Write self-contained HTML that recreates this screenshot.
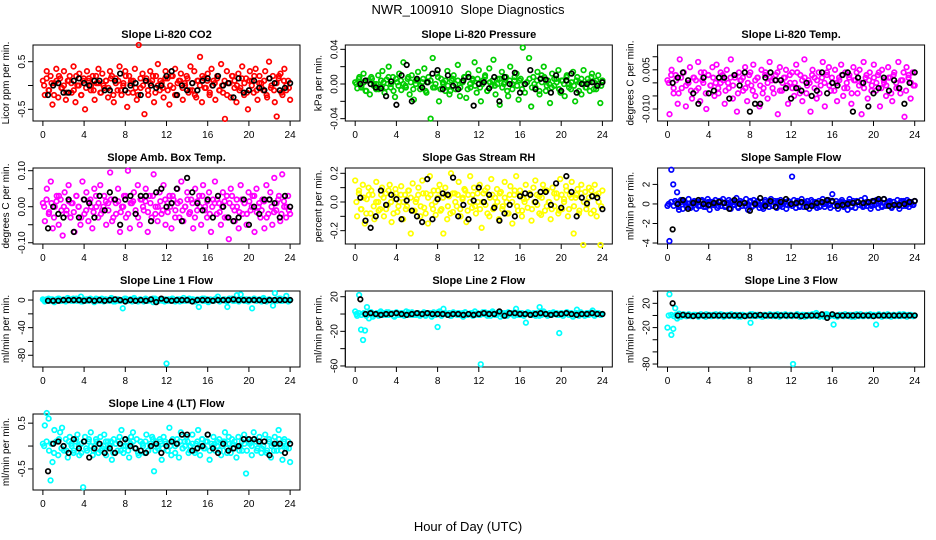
<!DOCTYPE html>
<html><head><meta charset="utf-8"><style>
body{margin:0;background:#fff}
svg{display:block;font-family:"Liberation Sans",sans-serif}
</style></head><body>
<svg id="c" width="936" height="540">
<text x="468" y="14" font-size="13" text-anchor="middle">NWR_100910&#160; Slope Diagnostics</text>
<text x="468" y="531" font-size="13" text-anchor="middle">Hour of Day (UTC)</text>
</svg>
<script>
const co2Vals=[0.1,-0.2,0.3,-0.1,0.2,-0.4,0.05,0.35,-0.25,0.15,-0.05,0.3,-0.3,0.1,0.2,-0.15,0.4,-0.35,0.0,0.25,-0.2,0.1,-0.5,0.3,0.15,-0.1,0.2,-0.3,0.05,0.35,-0.15,0.25,-0.05,0.1,-0.25,0.3,0.2,-0.35,0.15,-0.1,0.4,-0.2,0.05,0.3,-0.45,0.2,0.1,-0.15,0.35,-0.3,0.85,-0.05,0.25,-0.6,0.15,-0.2,0.3,0.1,-0.35,0.2,0.45,-0.1,0.05,-0.25,0.3,0.15,-0.4,0.2,-0.05,0.35,-0.2,0.1,0.25,-0.3,0.05,0.2,-0.15,0.4,-0.1,0.3,-0.25,0.1,0.6,-0.35,0.15,-0.05,0.25,-0.2,0.35,0.1,-0.3,0.2,-0.1,0.45,-0.15,-0.7,0.3,0.05,-0.25,0.2,0.1,-0.35,0.25,-0.05,0.4,-0.2,0.15,-0.5,0.3,0.1,-0.15,0.35,-0.3,0.2,0.05,-0.1,0.3,-0.25,0.5,-0.05,0.2,-0.35,-0.65,0.15,0.25,-0.2,0.35,-0.1,0.1,-0.3];
const co2Core=[0.0,0.15,-0.1,0.05,-0.2,0.1,0.2,-0.05,0.0,-0.15,0.1,0.05,-0.1,0.2,0.0,-0.2,0.15,-0.05,0.1,0.0,-0.1,0.2,0.05,-0.15,0.0,0.1,-0.05,0.15,-0.2,0.05,0.1,-0.1,0.0,0.2,-0.15,0.05,0.1,-0.05,-0.2,0.15,0.0,0.1,-0.1,0.05,0.2,-0.15,0.0,0.1,-0.05,0.15,-0.1,0.0,0.2,-0.2,0.05,0.1,-0.05,0.0,0.15,-0.1,0.05,-0.2,0.1,0.0,0.2,-0.05,0.1,-0.15,0.0,0.05,0.15,-0.1,0.0,0.1,-0.2,0.05,0.2,-0.05,0.0,-0.1,0.15,0.05,-0.15,0.1,0.0,0.2,-0.1,0.05,-0.05,0.1,-0.2,0.15,0.0,-0.1,0.05,0.2,-0.15,0.1,0.0,-0.05];
const co2Black=[-0.2,0.0,0.05,-0.15,-0.15,0.1,0.15,0.05,0.0,0.1,0.1,-0.1,-0.1,0.1,0.25,-0.1,0.0,0.05,-0.2,0.1,0.0,-0.05,0.0,0.2,0.3,-0.2,0.0,-0.1,0.05,-0.1,0.1,0.15,0.0,0.2,0.0,0.05,-0.25,0.15,-0.15,-0.1,0.1,-0.05,-0.1,0.15,0.05,-0.1,-0.05,0.05];
const presVals=[0.002,-0.005,0.008,-0.002,0.012,-0.008,0.004,-0.012,0.006,0.0,-0.006,0.01,-0.003,0.015,-0.01,0.005,0.02,-0.004,0.008,-0.015,0.002,0.012,-0.007,0.025,-0.002,0.006,-0.012,0.01,-0.018,0.004,0.014,-0.006,0.002,0.018,-0.01,0.008,-0.04,0.03,-0.004,0.012,-0.02,0.006,0.0,-0.008,0.015,-0.012,0.004,0.01,-0.006,0.022,-0.014,0.002,0.008,-0.016,0.012,-0.004,0.006,0.025,-0.01,0.016,-0.02,0.004,0.01,-0.008,0.018,-0.002,0.028,-0.012,0.006,-0.024,0.014,0.0,0.008,-0.014,0.02,-0.006,0.004,0.012,-0.018,0.006,0.042,-0.01,0.002,0.03,-0.026,0.008,-0.004,0.014,-0.012,0.01,0.02,-0.008,0.004,-0.022,0.012,-0.002,0.006,0.016,-0.01,0.004,-0.014,0.01,0.0,-0.006,0.014,-0.02,0.008,0.002,-0.012,0.016,-0.004,0.006,-0.008,0.012,0.002,-0.006,0.01,-0.022,0.004];
const presCore=[0.0,0.006,-0.004,0.002,-0.008,0.004,0.008,-0.002,0.0,-0.006,0.004,0.002,-0.004,0.008,0.0,-0.008,0.006,-0.002,0.004,0.0,-0.004,0.008,0.002,-0.006,0.0,0.004,-0.002,0.006,-0.008,0.002,0.004,-0.004,0.0,0.008,-0.006,0.002,0.004,-0.002,-0.008,0.006,0.0,0.004,-0.004,0.002,0.008,-0.006,0.0,0.004,-0.002,0.006,-0.004,0.0,0.008,-0.008,0.002,0.004,-0.002,0.0,0.006,-0.004,0.002,-0.008,0.004,0.0,0.008,-0.002,0.004,-0.006,0.0,0.002,0.006,-0.004,0.0,0.004,-0.008,0.002,0.008,-0.002,0.0,-0.004,0.006,0.002,-0.006,0.004,0.0,0.008,-0.004,0.002,-0.002,0.004,-0.008,0.006,0.0,-0.004,0.002,0.008,-0.006,0.004,0.0,-0.002];
const presBlack=[0.0,0.004,0.0,-0.004,-0.005,-0.014,0.003,-0.024,0.01,0.022,-0.02,0.006,-0.004,0.002,0.012,0.016,-0.006,0.01,-0.002,-0.006,0.004,0.008,-0.025,0.0,0.002,-0.005,0.008,-0.02,0.008,0.0,0.013,-0.01,0.0,0.016,-0.006,0.006,0.005,-0.01,0.01,-0.008,0.004,0.012,-0.01,0.0,0.0,0.002,-0.002,0.002];
const tempVals=[0.001,-0.012,0.005,-0.004,0.003,-0.008,0.009,-0.002,0.004,-0.009,0.0,0.006,-0.006,0.002,-0.003,0.008,-0.007,0.001,0.004,-0.01,0.003,-0.001,0.006,-0.005,0.007,-0.004,0.0,0.003,-0.008,0.005,-0.002,0.009,-0.006,0.002,-0.011,0.004,0.001,-0.003,0.006,-0.007,0.003,-0.001,0.007,-0.005,0.002,-0.009,0.005,-0.002,0.004,-0.006,0.008,0.001,-0.004,0.003,-0.012,0.006,-0.003,0.002,0.005,-0.008,0.0,0.004,-0.005,0.007,-0.002,0.003,-0.007,0.009,-0.004,0.001,-0.011,0.005,0.002,-0.006,0.004,-0.001,0.008,-0.009,0.003,0.006,-0.003,0.0,0.005,-0.007,0.002,0.007,-0.005,0.004,-0.002,0.003,-0.008,0.006,0.001,-0.004,0.005,-0.012,0.008,0.002,-0.006,0.004,-0.001,0.007,-0.003,0.003,-0.009,0.005,0.0,-0.005,0.006,0.002,-0.007,0.004,-0.002,0.008,-0.004,0.001,-0.013,0.006,0.003,-0.006,0.004,-0.001];
const tempCore=[0.0,0.003,-0.002,0.001,-0.004,0.002,0.004,-0.001,0.0,-0.003,0.002,0.001,-0.002,0.004,0.0,-0.004,0.003,-0.001,0.002,0.0,-0.002,0.004,0.001,-0.003,0.0,0.002,-0.001,0.003,-0.004,0.001,0.002,-0.002,0.0,0.004,-0.003,0.001,0.002,-0.001,-0.004,0.003,0.0,0.002,-0.002,0.001,0.004,-0.003,0.0,0.002,-0.001,0.003,-0.002,0.0,0.004,-0.004,0.001,0.002,-0.001,0.0,0.003,-0.002,0.001,-0.004,0.002,0.0,0.004,-0.001,0.002,-0.003,0.0,0.001,0.003,-0.002,0.0,0.002,-0.004,0.001,0.004,-0.001,0.0,-0.002,0.003,0.001,-0.003,0.002,0.0,0.004,-0.002,0.001,-0.001,0.002,-0.004,0.003,0.0,-0.002,0.001,0.004,-0.003,0.002,0.0,-0.001];
const tempBlack=[0.0,0.002,0.004,0.001,-0.004,-0.008,0.002,-0.004,-0.003,0.002,0.002,-0.006,0.003,-0.001,0.004,-0.011,-0.008,-0.008,0.002,0.004,0.001,0.001,-0.002,-0.006,-0.002,-0.003,0.0,-0.005,-0.003,0.004,-0.004,0.0,-0.001,0.003,0.004,-0.011,0.002,0.0,-0.009,-0.004,-0.002,0.002,-0.003,0.001,-0.002,-0.008,0.0,0.004];
const ambVals=[0.01,-0.04,0.05,-0.02,0.07,-0.06,0.0,0.03,-0.05,0.02,-0.08,0.04,-0.01,0.06,-0.03,0.01,-0.07,0.03,0.0,-0.05,0.07,-0.02,0.04,-0.04,0.02,-0.06,0.05,0.0,-0.03,0.06,-0.01,0.03,-0.05,0.01,0.095,-0.04,0.02,-0.02,0.05,-0.07,0.0,0.03,-0.03,0.1,-0.06,0.01,0.04,-0.02,0.06,-0.05,0.02,-0.01,0.05,-0.07,0.03,-0.03,0.09,0.0,-0.04,0.04,-0.02,0.06,-0.05,0.01,0.03,-0.06,0.02,-0.01,0.05,-0.03,0.07,-0.04,0.0,0.04,-0.02,0.02,-0.06,0.05,-0.01,0.03,-0.05,0.06,0.0,-0.03,0.04,-0.07,0.02,0.07,-0.02,0.01,-0.05,0.04,-0.03,0.03,-0.09,0.05,0.0,-0.04,0.02,-0.06,0.06,-0.02,0.01,-0.05,0.04,-0.01,0.03,-0.07,0.05,0.0,-0.03,0.02,-0.06,0.06,-0.02,0.04,-0.05,0.08,-0.01,0.02,-0.04,0.09,0.0,-0.03,0.03,-0.02];
const ambCore=[0.0,0.02,-0.015,0.01,-0.03,0.015,0.03,-0.01,0.0,-0.02,0.015,0.01,-0.015,0.03,0.0,-0.03,0.02,-0.01,0.015,0.0,-0.015,0.03,0.01,-0.02,0.0,0.015,-0.01,0.02,-0.03,0.01,0.015,-0.015,0.0,0.03,-0.02,0.01,0.015,-0.01,-0.03,0.02,0.0,0.015,-0.015,0.01,0.03,-0.02,0.0,0.015,-0.01,0.02,-0.015,0.0,0.03,-0.03,0.01,0.015,-0.01,0.0,0.02,-0.015,0.01,-0.03,0.015,0.0,0.03,-0.01,0.015,-0.02,0.0,0.01,0.02,-0.015,0.0,0.015,-0.03,0.01,0.03,-0.01,0.0,-0.015,0.02,0.01,-0.02,0.015,0.0,0.03,-0.015,0.01,-0.01,0.015,-0.03,0.02,0.0,-0.015,0.01,0.03,-0.02,0.015,0.0,-0.01];
const ambBlack=[-0.06,0.0,-0.02,-0.03,0.02,-0.07,-0.03,0.02,0.01,-0.03,0.03,-0.01,0.04,0.02,-0.05,0.02,0.03,-0.02,0.03,0.03,-0.04,0.04,0.05,0.0,0.01,0.05,-0.04,0.08,0.04,0.01,-0.01,0.02,-0.03,0.03,0.0,-0.03,-0.04,-0.03,0.02,-0.05,0.0,-0.02,0.02,0.02,0.01,-0.03,0.03,0.0];
const rhVals=[0.15,-0.1,0.08,-0.05,0.12,-0.15,0.02,0.1,-0.08,0.05,-0.12,0.14,0.0,-0.05,0.1,-0.1,0.06,-0.02,0.12,-0.14,0.04,0.09,-0.07,0.0,0.11,-0.12,0.05,-0.03,0.08,-0.22,0.13,-0.06,0.02,0.1,-0.1,0.15,-0.04,0.06,-0.15,0.18,-0.02,0.08,-0.09,0.03,0.12,-0.05,-0.22,0.1,-0.12,0.04,0.2,-0.07,0.06,-0.03,0.14,-0.1,0.02,0.09,-0.14,0.05,0.18,-0.04,0.1,-0.08,0.0,0.12,-0.18,0.06,-0.02,0.1,-0.1,0.16,-0.05,0.03,0.09,-0.12,0.07,-0.03,0.14,0.0,-0.08,0.11,-0.15,0.05,0.18,-0.06,0.08,-0.1,0.02,0.12,-0.04,0.06,-0.13,0.1,0.15,-0.02,0.04,-0.09,0.12,-0.06,0.08,0.0,-0.12,0.1,-0.03,0.06,-0.08,0.16,-0.05,0.02,0.11,-0.1,0.05,0.14,-0.22,0.03,0.09,-0.06,0.12,-0.3,0.07,-0.02,0.1,-0.08,0.04,0.12,-0.1,0.06,-0.3,0.08];
const rhCore=[0.0,0.06,-0.05,0.03,-0.08,0.05,0.08,-0.03,0.0,-0.06,0.05,0.03,-0.05,0.08,0.0,-0.08,0.06,-0.03,0.05,0.0,-0.05,0.08,0.03,-0.06,0.0,0.05,-0.03,0.06,-0.08,0.03,0.05,-0.05,0.0,0.08,-0.06,0.03,0.05,-0.03,-0.08,0.06,0.0,0.05,-0.05,0.03,0.08,-0.06,0.0,0.05,-0.03,0.06,-0.05,0.0,0.08,-0.08,0.03,0.05,-0.03,0.0,0.06,-0.05,0.03,-0.08,0.05,0.0,0.08,-0.03,0.05,-0.06,0.0,0.03,0.06,-0.05,0.0,0.05,-0.08,0.03,0.08,-0.03,0.0,-0.05,0.06,0.03,-0.06,0.05,0.0,0.08,-0.05,0.03,-0.03,0.05,-0.08,0.06,0.0,-0.05,0.03,0.08,-0.06,0.05,0.0,-0.03];
const rhBlack=[0.03,-0.13,-0.18,-0.1,0.08,-0.02,0.05,0.02,-0.12,0.01,-0.06,-0.1,-0.14,0.16,-0.12,0.02,0.06,0.05,0.17,-0.1,-0.02,-0.12,0.01,0.1,0.0,0.05,-0.04,-0.13,-0.08,-0.02,-0.1,0.04,0.06,0.05,0.0,0.07,0.07,-0.02,0.13,-0.04,0.18,0.07,-0.1,0.03,-0.01,0.04,0.03,-0.05];
const sfVals=[-0.2,-3.8,3.5,2.0,0.3,1.2,-0.6,0.4,-0.5,0.2,-0.3,0.5,-0.4,0.1,0.3,-0.5,0.2,-0.2,0.4,-0.3,0.0,0.5,-0.6,0.2,-0.1,0.4,-0.4,0.3,-0.2,0.5,-0.3,0.1,0.4,-0.5,0.2,-0.1,0.6,-0.4,0.3,-0.2,0.1,0.5,-0.6,0.2,-0.3,0.4,-0.1,0.3,-0.4,0.2,-0.5,0.4,0.0,-0.3,0.5,-0.2,0.3,-0.4,0.1,0.4,-0.3,0.2,-0.5,0.3,-0.1,2.8,0.4,-0.4,0.2,-0.2,0.5,-0.3,0.1,0.3,-0.5,0.4,-0.1,0.2,-0.4,0.3,-0.2,0.5,-0.3,0.1,0.4,-0.4,1.0,-0.2,0.3,-0.5,0.2,0.4,-0.3,0.1,-0.6,0.5,-0.2,0.3,-0.4,0.2,-0.1,0.4,-0.3,0.6,-0.2,0.1,-0.5,0.3,-0.1,0.4,-0.4,0.2,-0.3,0.5,-0.2,0.1,0.3,-0.4,0.2,-0.1,0.4,-0.5,0.3,-0.2,0.1,0.4,-0.3,0.2,-0.1,0.3];
const sfCore=[0.0,0.2,-0.2,0.1,-0.3,0.2,0.3,-0.1,0.0,-0.2,0.2,0.1,-0.2,0.3,0.0,-0.3,0.2,-0.1,0.2,0.0,-0.2,0.3,0.1,-0.2,0.0,0.2,-0.1,0.2,-0.3,0.1,0.2,-0.2,0.0,0.3,-0.2,0.1,0.2,-0.1,-0.3,0.2,0.0,0.2,-0.2,0.1,0.3,-0.2,0.0,0.2,-0.1,0.2,-0.2,0.0,0.3,-0.3,0.1,0.2,-0.1,0.0,0.2,-0.2,0.1,-0.3,0.2,0.0,0.3,-0.1,0.2,-0.2,0.0,0.1,0.2,-0.2,0.0,0.2,-0.3,0.1,0.3,-0.1,0.0,-0.2,0.2,0.1,-0.2,0.2,0.0,0.3,-0.2,0.1,-0.1,0.2,-0.3,0.2,0.0,-0.2,0.1,0.3,-0.2,0.2,0.0,-0.1];
const sfBlack=[-2.6,0.0,0.4,-0.5,0.1,0.4,0.0,-0.1,0.1,0.2,0.1,-0.5,0.4,0.0,0.1,-0.7,0.0,0.6,-0.2,0.3,-0.3,0.2,0.5,0.0,0.1,0.2,-0.3,-0.2,0.1,0.2,0.4,0.3,-0.2,-0.1,0.0,0.1,0.2,0.1,0.2,0.3,0.5,0.5,-0.2,-0.1,-0.1,0.0,0.2,0.3];
const l1Vals=[1,-2,0,2,-1,1,-3,0,2,-1,0,1,-2,3,0,-1,2,0,-1,1,5,-2,0,1,-1,2,0,-3,1,-1,0,2,-2,1,0,-1,3,0,-2,1,-1,0,-12,2,-1,0,1,-2,3,0,-1,1,0,-2,2,-1,0,1,-3,2,0,-1,1,0,-2,-92,1,-1,2,0,-1,1,-2,0,3,-1,0,2,-1,1,-2,0,-10,1,-1,2,0,-3,1,0,-1,2,5,-2,0,1,-1,-10,2,0,-1,1,7,-2,8,0,-1,1,-2,0,-12,2,-1,0,1,-2,3,0,-1,1,0,-8,10,-1,0,2,-1,1,6,-2,0];
const l1Core=[0,1,-1,1,-2,1,2,-1,0,-1,1,1,-1,2,0,-2,1,-1,1,0,-1,2,1,-1,0,1,-1,1,-2,1,1,-1,0,2,-1,1,1,-1,-2,1,0,1,-1,1,2,-1,0,1,-1,1,-1,0,2,-2,1,1,-1,0,1,-1,1,-2,1,0,2,-1,1,-1,0,1,1,-1,0,1,-2,1,2,-1,0,-1,1,1,-1,1,0,2,-1,1,-1,1,-2,1,0,-1,1,2,-1,1,0,-1];
const l1Black=[-1,-1,-1,0,0,0,0,-1,0,-1,0,-1,0,1,0,-2,0,-1,0,-1,1,-3,2,0,-1,0,0,0,-2,0,0,0,-1,0,0,0,1,0,0,0,0,0,-1,0,0,0,0,0];
const l2Vals=[3,-2,22,-18,-30,-19,8,-5,2,-3,0,1,-2,3,-1,0,2,-1,0,1,-3,2,0,-1,1,-2,3,0,-1,2,0,-1,1,-2,0,2,-1,1,0,-3,2,-1,-15,3,-2,6,0,-1,1,-2,2,0,-1,1,0,-3,2,-1,0,1,-2,3,0,-1,-58,2,0,-1,1,-2,3,0,-1,2,-3,1,0,-1,2,0,1,-2,6,0,-1,1,-2,-10,2,0,-1,1,-2,0,8,-1,3,0,-2,1,-1,2,0,-1,-22,1,-2,0,2,-1,1,-3,0,5,-1,2,0,-2,1,-1,0,4,-2,0,1,-1,0];
const l2Core=[0,1,-1,1,-2,1,2,-1,0,-1,1,1,-1,2,0,-2,1,-1,1,0,-1,2,1,-1,0,1,-1,1,-2,1,1,-1,0,2,-1,1,1,-1,-2,1,0,1,-1,1,2,-1,0,1,-1,1,-1,0,2,-2,1,1,-1,0,1,-1,1,-2,1,0,2,-1,1,-1,0,1,1,-1,0,1,-2,1,2,-1,0,-1,1,1,-1,1,0,2,-1,1,-1,1,-2,1,0,-1,1,2,-1,1,0,-1];
const l2Black=[17,0,1,0,-1,0,0,1,0,-1,0,1,0,1,0,0,0,-1,0,0,-1,0,-1,0,1,0,0,3,-2,1,1,0,0,-1,0,1,0,-1,0,0,1,0,-1,0,0,1,0,0];
const l3Vals=[-20,35,-32,-22,12,-5,3,-2,0,1,-1,2,0,-1,1,0,-2,1,0,-1,2,0,1,-1,0,2,-1,0,1,-2,0,1,-1,2,0,-1,1,0,-2,1,0,-1,0,-12,2,0,-1,1,0,-2,1,0,-1,2,0,1,-1,0,-2,1,0,2,-1,0,1,-80,0,2,-1,0,1,-2,0,1,-1,2,0,4,-1,0,1,-2,2,0,-1,1,-15,0,-2,1,0,-1,2,0,-1,1,0,-2,1,0,2,-1,0,1,-1,2,0,-1,-15,1,0,-2,1,0,2,-1,0,1,-1,0,2,-1,0,1,-2,0,1,-1,0];
const l3Core=[0,1,-1,1,-2,1,2,-1,0,-1,1,1,-1,2,0,-2,1,-1,1,0,-1,2,1,-1,0,1,-1,1,-2,1,1,-1,0,2,-1,1,1,-1,-2,1,0,1,-1,1,2,-1,0,1,-1,1,-1,0,2,-2,1,1,-1,0,1,-1,1,-2,1,0,2,-1,1,-1,0,1,1,-1,0,1,-2,1,2,-1,0,-1,1,1,-1,1,0,2,-1,1,-1,1,-2,1,0,-1,1,2,-1,1,0,-1];
const l3Black=[20,0,1,0,-1,0,0,0,0,0,0,0,0,0,-1,0,0,1,0,0,0,0,0,0,0,-1,0,0,0,2,-4,2,0,0,0,0,0,0,0,-1,0,0,0,0,0,0,0,0];
const l4Vals=[0.05,0.45,0.72,0.6,-0.75,-0.35,0.35,0.1,-0.2,0.3,0.4,-0.1,0.15,-0.25,0.2,0.0,-0.15,0.1,0.25,-0.2,0.05,-0.9,0.2,-0.1,0.15,0.3,-0.2,0.0,0.1,-0.15,0.2,-0.05,0.25,-0.2,0.1,0.0,-0.3,0.15,0.05,-0.1,0.2,0.35,-0.15,0.0,0.1,-0.25,0.2,0.3,-0.05,0.15,-0.2,0.1,0.05,-0.15,0.25,-0.1,0.0,0.2,-0.55,0.1,-0.05,0.15,-0.3,0.2,0.05,-0.1,0.4,-0.2,0.1,0.0,0.15,-0.25,0.3,-0.05,0.1,0.2,-0.15,0.0,0.25,-0.1,0.05,0.35,-0.2,0.15,-0.05,0.1,0.25,-0.3,0.05,0.2,-0.1,0.0,0.15,-0.2,0.1,0.3,-0.05,0.2,-0.15,0.05,0.1,-0.25,0.2,0.0,-0.1,0.25,-0.6,0.15,0.05,-0.2,0.3,0.1,-0.05,0.2,-0.15,0.0,0.25,-0.1,0.15,-0.25,0.05,0.2,-0.1,0.35,0.0,-0.3,0.15,-0.05,0.1,-0.35];
const l4Core=[0.0,0.1,-0.1,0.05,-0.15,0.1,0.15,-0.05,0.0,-0.1,0.1,0.05,-0.1,0.15,0.0,-0.15,0.1,-0.05,0.1,0.0,-0.1,0.15,0.05,-0.1,0.0,0.1,-0.05,0.1,-0.15,0.05,0.1,-0.1,0.0,0.15,-0.1,0.05,0.1,-0.05,-0.15,0.1,0.0,0.1,-0.1,0.05,0.15,-0.1,0.0,0.1,-0.05,0.1,-0.1,0.0,0.15,-0.15,0.05,0.1,-0.05,0.0,0.1,-0.1,0.05,-0.15,0.1,0.0,0.15,-0.05,0.1,-0.1,0.0,0.05,0.1,-0.1,0.0,0.1,-0.15,0.05,0.15,-0.05,0.0,-0.1,0.1,0.05,-0.1,0.1,0.0,0.15,-0.1,0.05,-0.05,0.1,-0.15,0.1,0.0,-0.1,0.05,0.15,-0.1,0.1,0.0,-0.05];
const l4Black=[-0.55,0.05,0.1,0.0,-0.15,0.15,-0.05,0.1,-0.25,-0.05,0.05,-0.15,-0.05,-0.15,0.05,0.15,0.0,-0.05,-0.1,-0.15,0.0,0.05,-0.15,0.0,0.1,0.05,0.25,0.25,-0.1,-0.05,0.0,0.25,-0.05,-0.15,0.05,-0.1,-0.05,0.0,0.15,0.15,0.15,0.1,0.1,-0.2,0.05,0.05,-0.15,0.05];
const xTicks=[0,4,8,12,16,20,24];
const panelTitles=["Slope Li-820 CO2","Slope Li-820 Pressure","Slope Li-820 Temp.","Slope Amb. Box Temp.","Slope Gas Stream RH","Slope Sample Flow","Slope Line 1 Flow","Slope Line 2 Flow","Slope Line 3 Flow","Slope Line 4 (LT) Flow"];
const yTitles=["Licor ppm per min.","kPa per min.","degrees C per min.","degrees C per min.","percent per min.","ml/min per min.","ml/min per min.","ml/min per min.","ml/min per min.","ml/min per min."];
const yTickVals=[[-0.5,0,0.5],[-0.04,-0.02,0,0.02,0.04],[-0.01,-0.005,0,0.005,0.01],[-0.1,-0.05,0,0.05,0.1],[-0.2,-0.1,0,0.1,0.2],[-4,-2,0,2],[-80,-60,-40,-20,0],[-60,-40,-20,0,20],[-80,-60,-40,-20,0,20,40],[-0.5,0,0.5]];
const yTickLabels=[["-0.5","0.5"],["-0.04","0.00","0.04"],["-0.010","0.005"],["-0.10","0.00","0.10"],["-0.2","0.0","0.2"],["-4","-2","0","2"],["-80","-40","0"],["-60","-20","20"],["-80","-20","20"],["-0.5","0.5"]];
const yTickLabelVals=[[-0.5,0.5],[-0.04,0,0.04],[-0.01,0.005],[-0.1,0,0.1],[-0.2,0,0.2],[-4,-2,0,2],[-80,-40,0],[-60,-20,20],[-80,-20,20],[-0.5,0.5]];
const colorVals=[co2Vals,presVals,tempVals,ambVals,rhVals,sfVals,l1Vals,l2Vals,l3Vals,l4Vals];
const coreVals=[co2Core,presCore,tempCore,ambCore,rhCore,sfCore,l1Core,l2Core,l3Core,l4Core];
const blackVals=[co2Black,presBlack,tempBlack,ambBlack,rhBlack,sfBlack,l1Black,l2Black,l3Black,l4Black];
const seriesColors=["#ff0000","#00cd00","#ff00ff","#ff00ff","#ffff00","#0000ff","#00ffff","#00ffff","#00ffff","#00ffff"];
const yLims=[[-0.745,0.85],[-0.0427,0.045],[-0.0146,0.0145],[-0.1035,0.1075],[-0.293,0.237],[-4.1,3.68],[-97,13.1],[-61.2,26.6],[-84.9,40.3],[-0.96,0.70]];

const svg=document.getElementById('c');
const NS='http://www.w3.org/2000/svg';
function mk(tag,attrs,parent){const e=document.createElementNS(NS,tag);for(const k in attrs)e.setAttribute(k,attrs[k]);(parent||svg).appendChild(e);return e;}
for(let p=0;p<10;p++){
  const col=p%3,row=Math.floor(p/3);
  const bx=33+col*312.3,by=45+row*123,bw=267,bh=76;
  const g=mk('g',{});
  
  
  const xs=h=>bx+(h+0.96)/25.92*bw;
  const [lo,hi]=yLims[p];
  const ys=v=>by+(hi-v)/(hi-lo)*bh;
  const t=mk('text',{x:bx+bw/2,y:by-7,'font-size':11,'font-weight':'bold','text-anchor':'middle'},g);
  t.textContent=panelTitles[p];
  
  
  const yt=mk('text',{transform:`translate(${bx-24},${by+bh/2}) rotate(-90)`,'font-size':10,'text-anchor':'middle'},g);
  yt.textContent=yTitles[p];
  
  
  mk('line',{x1:xs(0),x2:xs(24),y1:by+bh,y2:by+bh,stroke:'#000'},g);
  xTicks.forEach(h=>{
    mk('line',{x1:xs(h),x2:xs(h),y1:by+bh,y2:by+bh+5,stroke:'#000'},g);
    const l=mk('text',{x:xs(h),y:by+bh+17,'font-size':10,'text-anchor':'middle'},g);
    l.textContent=h;
    
    
  });
  const tv=yTickVals[p];
  mk('line',{x1:bx,x2:bx,y1:ys(tv[0]),y2:ys(tv[tv.length-1]),stroke:'#000'},g);
  tv.forEach(v=>mk('line',{x1:bx-5,x2:bx,y1:ys(v),y2:ys(v),stroke:'#000'},g));
  yTickLabelVals[p].forEach((v,i)=>{
    const l=mk('text',{transform:`translate(${bx-8},${ys(v)}) rotate(-90)`,'font-size':10,'text-anchor':'middle'},g);
    l.textContent=yTickLabels[p][i];
    
    
  });
  const r=mk('rect',{x:bx,y:by,width:bw,height:bh,fill:'none',stroke:'#000'},g);
  
  
  const cv=colorVals[p];
  cv.forEach((v,i)=>{
    const c=mk('circle',{cx:xs(i*24/(cv.length-1)),cy:ys(v),r:2.3,fill:'none',stroke:seriesColors[p],'stroke-width':1.7},g);
    
    
  });
  const ov=coreVals[p];
  ov.forEach((v,i)=>{
    const c=mk('circle',{cx:xs((i+0.5)*24/ov.length),cy:ys(v),r:2.3,fill:'none',stroke:seriesColors[p],'stroke-width':1.7},g);
    
    
  });
  const kv=blackVals[p];
  kv.forEach((v,i)=>{
    const c=mk('circle',{cx:xs((i+1)*24/kv.length),cy:ys(v),r:2.3,fill:'none',stroke:'#000','stroke-width':1.7},g);
    
    
  });
}
</script>
</body></html>
